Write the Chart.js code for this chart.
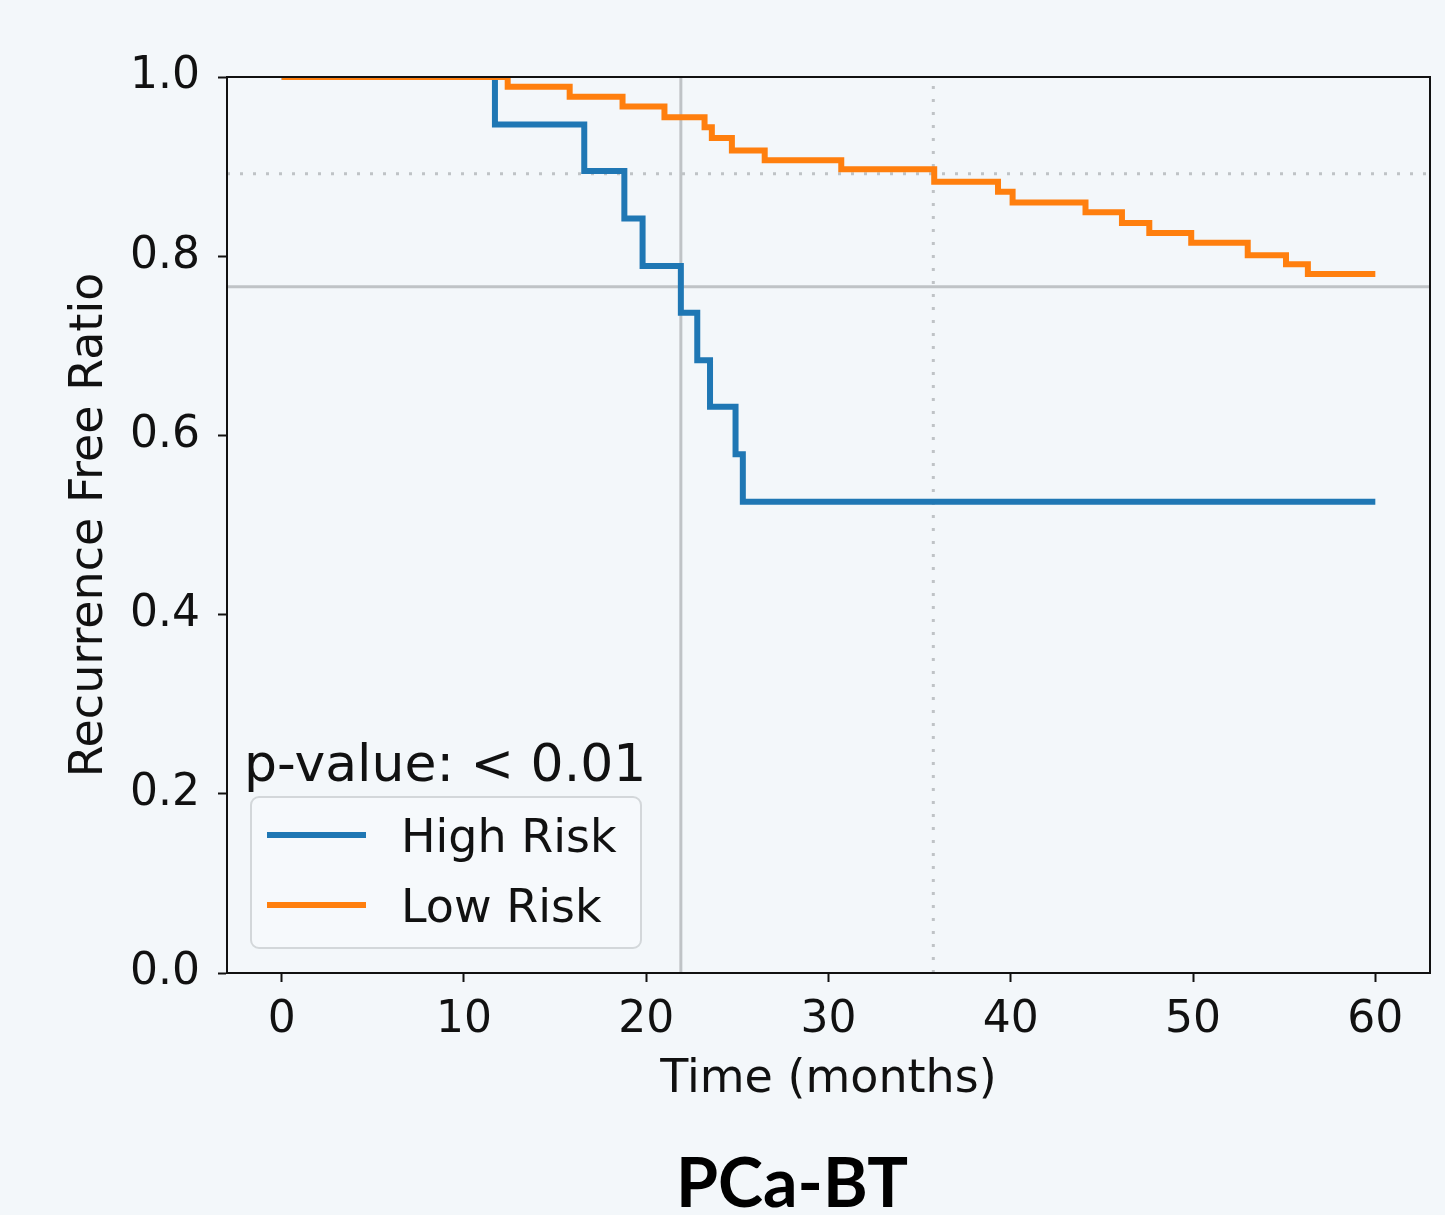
<!DOCTYPE html>
<html>
<head>
<meta charset="utf-8">
<script src="https://cdn.jsdelivr.net/npm/chart.js@4.4.1/dist/chart.umd.min.js"></script>
<style>
  html, body { margin: 0; padding: 0; background: #f3f7fa; }
  canvas { display: block; }
</style>
</head>
<body>
<canvas id="km" width="1445" height="1215"></canvas>
<script>
// Kaplan-Meier step points (time in months, recurrence free ratio)
const highTimes = [0, 11.7, 16.6, 18.8, 19.8, 21.9, 22.8, 23.5, 24.9, 25.3, 60];
const highRatio = [1.0, 0.947, 0.895, 0.842, 0.789, 0.737, 0.684, 0.632, 0.579, 0.526, 0.526];
const lowTimes = [0, 12.4, 15.8, 18.7, 21.0, 23.2, 23.6, 24.7, 26.5, 30.7, 35.8, 39.3, 40.1, 44.1, 46.1, 47.6, 49.9, 53.0, 55.1, 56.3, 60];
const lowRatio = [1.0, 0.989, 0.978, 0.967, 0.955, 0.944, 0.932, 0.918, 0.907, 0.897, 0.883, 0.872, 0.860, 0.849, 0.837, 0.826, 0.815, 0.801, 0.791, 0.780, 0.780];

// reference lines (solid = high risk, dotted = low risk)
const solidRefTime = 21.9;
const solidRefRatio = 0.766;
const dottedRefTime = 35.75;
const dottedRefRatio = 0.892;

const xTicks = [0, 10, 20, 30, 40, 50, 60];
const yTicks = [0, 0.2, 0.4, 0.6, 0.8, 1.0];
const xMin = -3, xMax = 63;
const seriesLabels = ['High Risk', 'Low Risk'];
const pValueText = 'p-value: < 0.01';

const BLUE = '#1f77b4';
const ORANGE = '#ff7f0e';
const REF = '#bfc3c6';

function toPoints(ts, vs) {
    return ts.map((t, i) => ({x: t, y: vs[i]}));
}

function refLine(points, dash, ord) {
    return {
        data: points,
        borderColor: REF,
        borderWidth: 3,
        borderDash: dash,
        pointRadius: 0,
        fill: false,
        order: ord
    };
}

const extras = {
    id: 'extras',
    afterDraw(chart) {
        const ctx = chart.ctx;
        const a = chart.chartArea;
        ctx.save();
        // box around plot
        ctx.strokeStyle = '#111';
        ctx.lineWidth = 2;
        ctx.strokeRect(a.left, a.top, a.right - a.left, a.bottom - a.top);

        ctx.fillStyle = '#111';
        // y title
        ctx.save();
        ctx.translate(102, (a.top + a.bottom) / 2);
        ctx.rotate(-Math.PI / 2);
        ctx.font = '46px "DejaVu Sans"';
        ctx.textAlign = 'center';
        ctx.textBaseline = 'alphabetic';
        ctx.fillText('Recurrence Free Ratio', 0, 0);
        ctx.restore();

        // x title
        ctx.font = '46px "DejaVu Sans"';
        ctx.textAlign = 'center';
        ctx.textBaseline = 'alphabetic';
        ctx.fillText('Time (months)', (a.left + a.right) / 2, 1092);

        // big caption
        ctx.fillStyle = '#000';
        ctx.font = 'bold 68px Lato';
        ctx.textBaseline = 'middle';
        ctx.fillText('PCa-BT', 792, 1185);

        // p-value
        ctx.fillStyle = '#111';
        ctx.font = '52px "DejaVu Sans"';
        ctx.textAlign = 'left';
        ctx.textBaseline = 'alphabetic';
        ctx.fillText(pValueText, 244, 781);

        // legend box
        const bx = 251, by = 797, bw = 390, bh = 151;
        ctx.beginPath();
        ctx.roundRect(bx, by, bw, bh, 8);
        ctx.fillStyle = 'rgba(246,249,251,0.85)';
        ctx.fill();
        ctx.strokeStyle = '#d3d7da';
        ctx.lineWidth = 2;
        ctx.stroke();

        const rows = [835, 905];
        const cols = [BLUE, ORANGE];
        ctx.font = '46px "DejaVu Sans"';
        ctx.textBaseline = 'alphabetic';
        rows.forEach((ry, i) => {
            ctx.strokeStyle = cols[i];
            ctx.lineWidth = 6;
            ctx.beginPath();
            ctx.moveTo(267, ry);
            ctx.lineTo(366, ry);
            ctx.stroke();
            ctx.fillStyle = '#111';
            ctx.fillText(seriesLabels[i], 401, ry + 17);
        });
        ctx.restore();
    }
};

new Chart(document.getElementById('km'), {
    type: 'line',
    data: {
        datasets: [
            {
                label: seriesLabels[1],
                data: toPoints(lowTimes, lowRatio),
                borderColor: ORANGE,
                borderWidth: 6,
                stepped: true,
                pointRadius: 0,
                fill: false,
                order: 1
            },
            {
                label: seriesLabels[0],
                data: toPoints(highTimes, highRatio),
                borderColor: BLUE,
                borderWidth: 6,
                stepped: true,
                pointRadius: 0,
                fill: false,
                order: 2
            },
            refLine([{x: solidRefTime, y: 0}, {x: solidRefTime, y: 1}], [], 3),
            refLine([{x: xMin, y: solidRefRatio}, {x: xMax, y: solidRefRatio}], [], 3),
            refLine([{x: dottedRefTime, y: 0}, {x: dottedRefTime, y: 1}], [3, 10], 4),
            refLine([{x: xMin, y: dottedRefRatio}, {x: xMax, y: dottedRefRatio}], [3, 10], 4)
        ]
    },
    options: {
        responsive: false,
        animation: false,
        layout: { padding: { top: 77, right: 15, left: 0, bottom: 0 } },
        plugins: {
            legend: { display: false },
            tooltip: { enabled: false }
        },
        scales: {
            x: {
                type: 'linear',
                min: xMin,
                max: xMax,
                afterBuildTicks: (s) => { s.ticks = xTicks.map(v => ({value: v})); },
                afterFit: (s) => { s.height = 242; },
                grid: { drawOnChartArea: false, tickLength: 9, tickColor: '#111', tickWidth: 2 },
                border: { display: true, color: '#111', width: 2 },
                ticks: {
                    color: '#111',
                    font: { family: 'DejaVu Sans', size: 44 },
                    padding: 12,
                    maxRotation: 0,
                    callback: (v) => String(v)
                }
            },
            y: {
                type: 'linear',
                min: 0,
                max: 1,
                afterBuildTicks: (s) => { s.ticks = yTicks.map(v => ({value: v})); },
                afterFit: (s) => { s.width = 227; },
                grid: { drawOnChartArea: false, tickLength: 9, tickColor: '#111', tickWidth: 2 },
                border: { display: true, color: '#111', width: 2 },
                ticks: {
                    color: '#111',
                    font: { family: 'DejaVu Sans', size: 44 },
                    padding: 18,
                    callback: (v) => Number(v).toFixed(1)
                }
            }
        }
    },
    plugins: [extras]
});
</script>
</body>
</html>
